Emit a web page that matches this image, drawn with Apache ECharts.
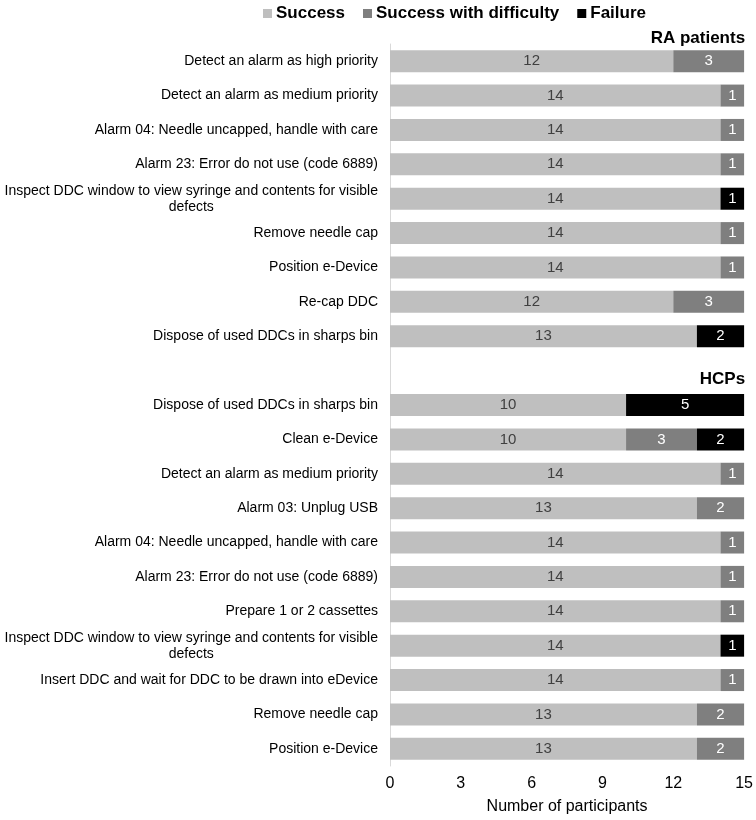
<!DOCTYPE html>
<html>
<head>
<meta charset="utf-8">
<script src="https://cdn.jsdelivr.net/npm/echarts@6/dist/echarts.min.js"></script>
<style>html,body{margin:0;padding:0;background:#fff}#c{width:756px;height:820px}</style>
</head>
<body>
<div id="c"></div>
<script>
var categories = [
  'Detect an alarm as high priority',
  'Detect an alarm as medium priority',
  'Alarm 04: Needle uncapped, handle with care',
  'Alarm 23: Error do not use (code 6889)',
  'Inspect DDC window to view syringe and contents for visible defects',
  'Remove needle cap',
  'Position e-Device',
  'Re-cap DDC',
  'Dispose of used DDCs in sharps bin',
  '',
  'Dispose of used DDCs in sharps bin',
  'Clean e-Device',
  'Detect an alarm as medium priority',
  'Alarm 03: Unplug USB',
  'Alarm 04: Needle uncapped, handle with care',
  'Alarm 23: Error do not use (code 6889)',
  'Prepare 1 or 2 cassettes',
  'Inspect DDC window to view syringe and contents for visible defects',
  'Insert DDC and wait for DDC to be drawn into eDevice',
  'Remove needle cap',
  'Position e-Device'
];
var success    = [12, 14, 14, 14, 14, 14, 14, 12, 13, null, 10, 10, 14, 13, 14, 14, 14, 14, 14, 13, 13];
var difficulty = [3, 1, 1, 1, 0, 1, 1, 3, 0, null, 0, 3, 1, 2, 1, 1, 1, 0, 1, 2, 2];
var failure    = [0, 0, 0, 0, 1, 0, 0, 0, 2, null, 5, 2, 0, 0, 0, 0, 0, 1, 0, 0, 0];
var seriesNames = ['Success', 'Success with difficulty', 'Failure'];
var xTicks = [0, 3, 6, 9, 12, 15];
var groupHeaders = [
  { text: 'RA patients', index: 0, dy: -23 },
  { text: 'HCPs', index: 9, dy: 8.5 }
];

var FONT = '"Liberation Sans", Arial, sans-serif';
var colors = ['#bfbfbf', '#7f7f7f', '#000000'];
var labelColors = ['#404040', '#ffffff', '#ffffff'];
var allData = [success, difficulty, failure];

var chart = echarts.init(document.getElementById('c'), null, { renderer: 'canvas' });

var series = seriesNames.map(function (name, i) {
  return {
    name: name,
    type: 'bar',
    stack: 'total',
    barWidth: 22,
    data: allData[i],
    itemStyle: { color: colors[i] },
    label: {
      show: true,
      position: 'inside',
      color: labelColors[i],
      fontFamily: FONT,
      fontSize: 15,
      formatter: function (p) { return p.value ? String(p.value) : ''; }
    },
    emphasis: { disabled: true }
  };
});

chart.setOption({
  animation: false,
  textStyle: { fontFamily: FONT },
  legend: {
    data: seriesNames,
    left: 258,
    top: 0,
    itemWidth: 9,
    itemHeight: 9,
    itemGap: 18,
    icon: 'rect',
    textStyle: { fontFamily: FONT, fontSize: 17, fontWeight: 'bold', color: '#000', padding: [0, 0, 0, -1] }
  },
  grid: { left: 390, right: 9, top: 44, bottom: 51, containLabel: false },
  xAxis: {
    type: 'value',
    min: xTicks[0],
    max: xTicks[xTicks.length - 1],
    interval: xTicks[1] - xTicks[0],
    axisLine: { show: false },
    axisTick: { show: false },
    splitLine: { show: false },
    axisLabel: { fontFamily: FONT, fontSize: 16, color: '#000', margin: 10 },
    name: 'Number of participants',
    nameLocation: 'middle',
    nameGap: 33,
    nameTextStyle: { fontFamily: FONT, fontSize: 16, color: '#000' }
  },
  yAxis: {
    type: 'category',
    inverse: true,
    data: categories,
    axisLine: { show: true, lineStyle: { color: '#d9d9d9', width: 1 } },
    axisTick: { show: false },
    axisLabel: {
      fontFamily: FONT,
      fontSize: 14,
      color: '#000',
      margin: 12,
      interval: 0,
      formatter: function (v) {
        var w = ' defects';
        if (v.length > 55 && v.slice(-w.length) === w) {
          return '{c|' + v.slice(0, -w.length) + '}\n{c|defects}';
        }
        return v;
      },
      rich: {
        c: { align: 'center', fontFamily: FONT, fontSize: 14, color: '#000', lineHeight: 16 }
      }
    }
  },
  series: series
});

function drawHeaders() {
  var rect = chart.getModel().getComponent('grid', 0).coordinateSystem.getRect();
  var elements = groupHeaders.map(function (h) {
    var y = chart.convertToPixel({ yAxisIndex: 0 }, h.index);
    return {
      type: 'text',
      x: rect.x + rect.width + 1,
      y: y + h.dy,
      style: {
        text: h.text,
        align: 'right',
        verticalAlign: 'middle',
        font: 'bold 17px ' + FONT,
        fill: '#000'
      }
    };
  });
  chart.setOption({ graphic: { elements: elements } });
}
drawHeaders();
</script>
</body>
</html>
